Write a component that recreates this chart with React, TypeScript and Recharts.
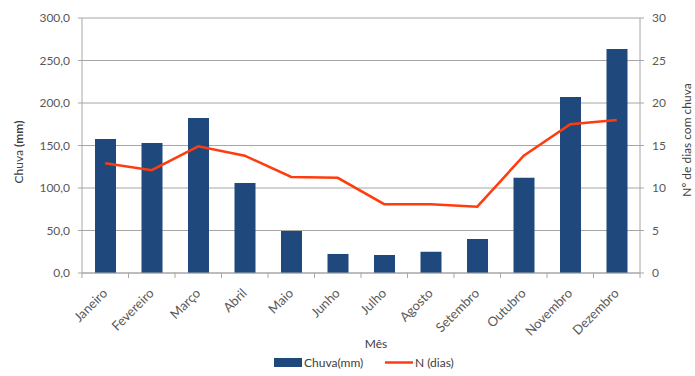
import React from 'react';
import { ComposedChart, Bar, Line, XAxis, YAxis, CartesianGrid, Legend } from 'recharts';

const months = ['Janeiro', 'Fevereiro', 'Março', 'Abril', 'Maio', 'Junho', 'Julho', 'Agosto', 'Setembro', 'Outubro', 'Novembro', 'Dezembro'];
const chuva = [157.6, 152.9, 182.4, 106.0, 49.4, 22.4, 21.2, 25.0, 40.0, 112.0, 207.1, 263.5];
const dias = [12.9, 12.1, 14.9, 13.8, 11.3, 11.2, 8.1, 8.1, 7.8, 13.8, 17.5, 18.0];
const leftTicks = [0, 50, 100, 150, 200, 250, 300];
const rightTicks = [0, 5, 10, 15, 20, 25, 30];

const data = months.map((m, i) => ({ mes: m, chuva: chuva[i], dias: dias[i] }));

const W = 695;
const H = 376;
const LEFT = 82;
const RIGHT = 55;
const BAND = (W - LEFT - RIGHT) / months.length;
const FONT = 'Lato, "Open Sans", sans-serif';
const TXT = '#595959';
const GRID = '#a6a6a6';

const XTick = (props: any) => {
  const { x, y, payload, index } = props;
  const ax = x + 3;
  const ay = y + 13;
  return (
    <g>
      <line x1={x - BAND / 2} y1={y - 8} x2={x - BAND / 2} y2={y - 3} stroke={GRID} />
      {index === months.length - 1 && (
        <line x1={x + BAND / 2} y1={y - 8} x2={x + BAND / 2} y2={y - 3} stroke={GRID} />
      )}
      <text x={ax} y={ay} textAnchor="end" fontSize={13} fill={TXT} fontFamily={FONT}
        transform={`rotate(-45, ${ax}, ${ay})`}>
        {payload.value}
      </text>
    </g>
  );
};

const LegendContent = () => (
  <svg width={W} height={20}>
    <rect x={274} y={6} width={28} height={9} fill="#1F497D" />
    <text x={304} y={15} fontSize={12} fill="#404040" fontFamily={FONT}>Chuva(mm)</text>
    <line x1={385} y1={10.5} x2={413} y2={10.5} stroke="#FF3C0F" strokeWidth={2.5} />
    <text x={415} y={15} fontSize={12} fill="#404040" fontFamily={FONT}>N (dias)</text>
  </svg>
);

export default function App() {
  return (
    <div style={{ position: 'absolute', left: 0, top: 0, width: W, height: H, background: '#fff' }}>
      <ComposedChart width={W} height={H} data={data} margin={{ top: 18, right: 0, bottom: 0, left: 0 }}>
        <CartesianGrid yAxisId="left" vertical={false} stroke={GRID} strokeWidth={1} />
        <XAxis dataKey="mes" height={103} interval={0} tick={<XTick />} tickLine={false}
          axisLine={{ stroke: GRID }}
          label={(p: any) => {
            const vb = p.viewBox;
            return (
              <text x={vb.x + vb.width / 2 + 15} y={348} textAnchor="middle" fontSize={12} fill="#404040" fontFamily={FONT}>Mês</text>
            );
          }} />
        <YAxis yAxisId="left" width={LEFT} domain={[0, 300]} ticks={leftTicks} interval={0}
          tickFormatter={(v: number) => v.toFixed(1).replace('.', ',')}
          tick={{ fontSize: 12, fill: TXT, fontFamily: FONT }}
          tickSize={4} tickMargin={8} tickLine={{ stroke: GRID }} axisLine={{ stroke: GRID }}
          label={() => (
            <text x={23} y={152} transform="rotate(-90, 23, 152)" textAnchor="middle" fontSize={12} fill="#404040" fontFamily={FONT}>
              Chuva <tspan fontWeight="bold">(mm)</tspan>
            </text>
          )} />
        <YAxis yAxisId="right" orientation="right" width={RIGHT} domain={[0, 30]} ticks={rightTicks} interval={0}
          tick={{ fontSize: 12, fill: TXT, fontFamily: FONT }}
          tickSize={4} tickMargin={8} tickLine={{ stroke: GRID }} axisLine={{ stroke: GRID }}
          label={() => (
            <text x={691} y={140} transform="rotate(-90, 691, 140)" textAnchor="middle" fontSize={12} fill="#404040" fontFamily={FONT}>
              Nº de dias com chuva
            </text>
          )} />
        <Bar yAxisId="left" dataKey="chuva" name="Chuva(mm)" fill="#1F497D" barSize={21} isAnimationActive={false} />
        <Line yAxisId="right" dataKey="dias" name="N (dias)" stroke="#FF3C0F" strokeWidth={2.5} dot={false}
          type="linear" isAnimationActive={false} />
        <Legend layout="horizontal" verticalAlign="middle" align="center" content={<LegendContent />}
          wrapperStyle={{ position: 'absolute', top: 352, left: 0, width: W, height: 20 }} />
      </ComposedChart>
    </div>
  );
}
